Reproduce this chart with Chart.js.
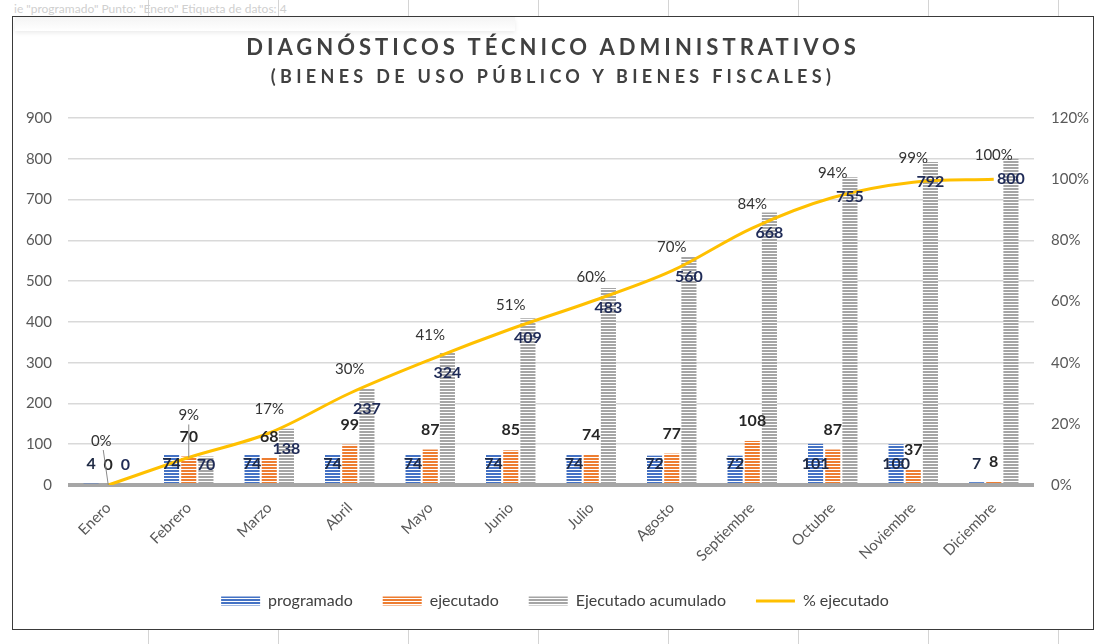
<!DOCTYPE html>
<html lang="es">
<head>
<meta charset="UTF-8">
<title>Diagnósticos técnico administrativos</title>
<script src="https://cdn.jsdelivr.net/npm/chart.js"></script>
<style>
  html, body { margin: 0; padding: 0; }
  body {
    width: 1099px; height: 644px; position: relative; overflow: hidden;
    font-family: Lato, "Open Sans", sans-serif;
    background: #fff repeating-linear-gradient(to right, transparent 0 129px, #d4d4d4 129px 130px);
    background-position: 19px 0;
  }
  .tip {
    position: absolute; left: 14px; top: 1px; color: #cfcfcf; font-size: 12px; white-space: nowrap;
  }
  .marco {
    position: absolute; left: 12px; top: 16px; width: 1080px; height: 612px;
    border: 1.5px solid #3a3a3a; background: #fff;
  }
  .sombra {
    position: absolute; left: 2px; top: 0; width: 500px; height: 14px;
    background: linear-gradient(#f4f4f4, #fff); box-shadow: 0 2px 4px rgba(0,0,0,0.08);
  }
  .titulo {
    position: absolute; left: 0; right: 0; text-align: center; color: #404040; font-weight: bold;
  }
  .t1 { top: 16px; font-size: 22px; letter-spacing: 4px; }
  .t2 { top: 48px; font-size: 18px; letter-spacing: 4.3px; }
  canvas { position: absolute; left: 0; top: 0; }
</style>
</head>
<body>
  <div class="tip">ie "programado" Punto: "Enero" Etiqueta de datos: 4</div>
  <div class="marco">
    <div class="sombra"></div>
    <canvas id="grafico" width="1080" height="612"></canvas>
    <div class="titulo t1">DIAGNÓSTICOS TÉCNICO ADMINISTRATIVOS</div>
    <div class="titulo t2">(BIENES DE USO PÚBLICO Y BIENES FISCALES)</div>
  </div>

<script>
// datos
const meses = ['Enero', 'Febrero', 'Marzo', 'Abril', 'Mayo', 'Junio', 'Julio',
               'Agosto', 'Septiembre', 'Octubre', 'Noviembre', 'Diciembre'];
const programado = [4, 74, 74, 74, 74, 74, 74, 72, 72, 101, 100, 7];
const ejecutado = [0, 70, 68, 99, 87, 85, 74, 77, 108, 87, 37, 8];
const acumulado = [0, 70, 138, 237, 324, 409, 483, 560, 668, 755, 792, 800];
const porcentaje = [0, 9, 17, 30, 41, 51, 60, 70, 84, 94, 99, 100];

// rayas horizontales tipo excel
function rayas(color) {
  const c = document.createElement('canvas');
  c.width = 4; c.height = 3;
  const g = c.getContext('2d');
  g.fillStyle = '#ffffff';
  g.fillRect(0, 0, 4, 3);
  g.fillStyle = color;
  g.fillRect(0, 0, 4, 2);
  return g.createPattern(c, 'repeat');
}

// etiquetas de datos
const etiquetas = {
  id: 'etiquetas',
  afterDatasetsDraw(chart) {
    const ctx = chart.ctx;
    const y = chart.scales.y;
    const base = y.getPixelForValue(0);
    ctx.save();
    ctx.textAlign = 'center';
    ctx.textBaseline = 'middle';
    ctx.font = 'bold 16px Lato';

    chart.getDatasetMeta(0).data.forEach((bar, i) => {
      ctx.fillStyle = '#1f2a44';
      ctx.fillText(programado[i], bar.x, y.getPixelForValue(52));
    });
    chart.getDatasetMeta(1).data.forEach((bar, i) => {
      ctx.fillStyle = '#262626';
      ctx.fillText(ejecutado[i], bar.x, bar.y - 20);
    });
    chart.getDatasetMeta(2).data.forEach((bar, i) => {
      ctx.fillStyle = '#1f2b57';
      ctx.fillText(acumulado[i], bar.x, Math.min(bar.y + 20, base - 20));
    });

    ctx.font = '15px Lato';
    ctx.fillStyle = '#333';
    ctx.strokeStyle = '#8a8a8a';
    ctx.lineWidth = 1;
    chart.getDatasetMeta(3).data.forEach((pt, i) => {
      let off = 24;
      if (i < 2) {
        off = i === 0 ? 44 : 42;
        ctx.beginPath();
        ctx.moveTo(pt.x - (i === 0 ? 5 : 0), pt.y - off + 9);
        ctx.lineTo(pt.x, pt.y);
        ctx.stroke();
      }
      ctx.fillText(porcentaje[i] + '%', pt.x - (i === 0 ? 7 : 0), pt.y - off);
    });
    ctx.restore();
  }
};

const ctx = document.querySelector('#grafico');

new Chart(ctx, {
  type: 'bar',
  data: {
    labels: meses,
    datasets: [
      {
        label: 'programado',
        data: programado,
        backgroundColor: rayas('#4472c4'),
        pointStyle: 'rect',
        order: 1
      },
      {
        label: 'ejecutado',
        data: ejecutado,
        backgroundColor: rayas('#ed7d31'),
        pointStyle: 'rect',
        order: 1
      },
      {
        label: 'Ejecutado acumulado',
        data: acumulado,
        backgroundColor: rayas('#a5a5a5'),
        pointStyle: 'rect',
        order: 1
      },
      {
        type: 'line',
        label: '% ejecutado',
        data: porcentaje.map(v => v / 100),
        yAxisID: 'y1',
        borderColor: '#ffc000',
        backgroundColor: '#ffc000',
        borderWidth: 3,
        pointRadius: 0,
        tension: 0.35,
        pointStyle: 'line',
        order: 0
      }
    ]
  },
  options: {
    responsive: false,
    animation: false,
    layout: { padding: { left: 5, right: 1, top: 101, bottom: 10 } },
    datasets: {
      bar: { categoryPercentage: 0.64, barPercentage: 0.88 }
    },
    plugins: {
      tooltip: { enabled: false },
      legend: {
        position: 'bottom',
        labels: {
          usePointStyle: true,
          pointStyleWidth: 39,
          boxHeight: 9,
          padding: 30,
          color: '#404040',
          font: { family: 'Lato', size: 16 },
          sort: (a, b) => a.datasetIndex - b.datasetIndex
        }
      }
    },
    scales: {
      x: {
        grid: { display: false },
        border: { display: false },
        afterFit: (s) => { s.height = 78; },
        ticks: {
          color: '#595959',
          font: { family: 'Lato', size: 15 },
          minRotation: 45,
          maxRotation: 45,
          padding: 6
        }
      },
      y: {
        min: 0,
        max: 900,
        afterFit: (s) => { s.width = 50; },
        ticks: {
          stepSize: 100,
          color: '#595959',
          font: { family: 'Lato', size: 15 },
          padding: 16
        },
        border: { display: false },
        grid: {
          drawTicks: false,
          color: (c) => c.tick && c.tick.value === 0 ? '#a6a6a6' : '#d9d9d9',
          lineWidth: (c) => c.tick && c.tick.value === 0 ? 4 : 1.5
        }
      },
      y1: {
        position: 'right',
        min: 0,
        max: 1.2,
        afterFit: (s) => { s.width = 58; },
        ticks: {
          stepSize: 0.2,
          color: '#595959',
          font: { family: 'Lato', size: 15 },
          padding: 17,
          callback: (v) => Math.round(v * 100) + '%'
        },
        border: { display: false },
        grid: { drawOnChartArea: false, drawTicks: false }
      }
    }
  },
  plugins: [etiquetas]
});
</script>
</body>
</html>
